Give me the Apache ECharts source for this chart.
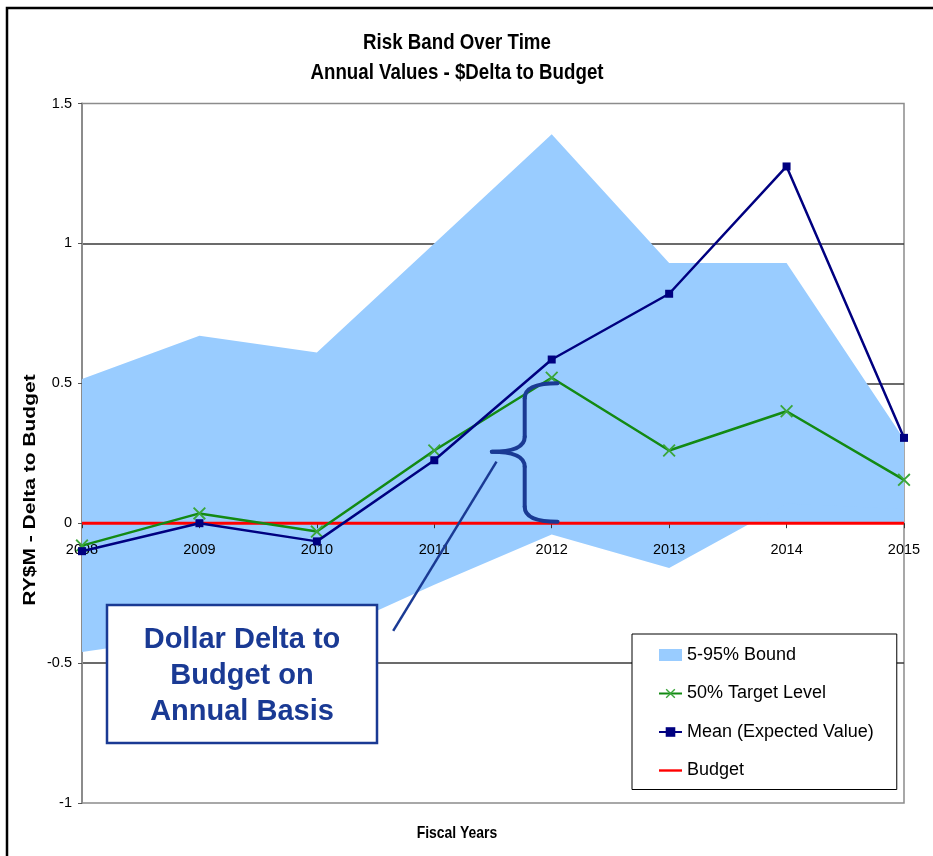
<!DOCTYPE html>
<html>
<head>
<meta charset="utf-8">
<title>Risk Band Over Time</title>
<script src="https://cdn.jsdelivr.net/npm/echarts@6/dist/echarts.min.js"></script>
<style>
  html, body { margin: 0; padding: 0; background: #ffffff; }
  #chart { width: 933px; height: 856px; }
</style>
</head>
<body>
<div id="chart"></div>
<script>
// Fiscal years on the category axis
const years = ['2008', '2009', '2010', '2011', '2012', '2013', '2014', '2015'];

// 5-95% risk band (upper and lower bounds), RY$M delta to budget
const bandUpper = [0.515, 0.67, 0.61, 1.0, 1.39, 0.93, 0.93, 0.30];
const bandLower = [-0.46, -0.40, -0.41, -0.22, -0.04, -0.16, 0.07, 0.05];

// 50% target level and mean (expected value)
const targetLevel = [-0.08, 0.035, -0.03, 0.26, 0.52, 0.26, 0.40, 0.155];
const meanValue = [-0.10, 0.0, -0.065, 0.225, 0.585, 0.82, 1.275, 0.305];

// Budget baseline
const budget = [0, 0, 0, 0, 0, 0, 0, 0];

// Value axis range
const yMin = -1;
const yMax = 1.5;
const yStep = 0.5;

const SANS = '"Liberation Sans", Arial, sans-serif';
const BAND_COLOR = '#99ccff';
const NOTE_COLOR = '#1a3a94';

// Plot area box
const GRID = { left: 82, top: 103.5, right: 29, bottom: 53 };
const CHART_H = 856;
const plotH = CHART_H - GRID.top - GRID.bottom;
// Category axis sits on the zero line of the value axis
const zeroOffset = -((0 - yMin) / (yMax - yMin)) * plotH;

// X-shaped marker for the target series
const crossSymbol = 'path://M0,1 L1,0 L5,4 L9,0 L10,1 L6,5 L10,9 L9,10 L5,6 L1,10 L0,9 L4,5 Z';
const lineIcon = 'path://M0,0 L24,0 L24,2.5 L0,2.5 Z';

const chart = echarts.init(document.getElementById('chart'), null, { renderer: 'canvas' });

const option = {
  animation: false,
  backgroundColor: '#ffffff',
  grid: {
    left: GRID.left,
    top: GRID.top,
    right: GRID.right,
    bottom: GRID.bottom,
    show: true,
    borderColor: '#8c8c8c',
    borderWidth: 1.5,
    backgroundColor: 'transparent'
  },
  legend: {
    orient: 'vertical',
    left: 632,
    top: 634,
    itemWidth: 23,
    itemHeight: 12,
    itemGap: 16.5,
    padding: [10, 23, 8, 26],
    backgroundColor: '#ffffff',
    borderColor: '#000000',
    borderWidth: 1,
    textStyle: { fontFamily: SANS, fontSize: 18, color: '#000000', lineHeight: 22 },
    data: [
      { name: '5-95% Bound', icon: 'rect', itemStyle: { color: BAND_COLOR } },
      { name: '50% Target Level' },
      { name: 'Mean (Expected Value)' },
      { name: 'Budget', icon: lineIcon, itemStyle: { color: '#ff0000' } }
    ]
  },
  xAxis: {
    type: 'category',
    data: years,
    boundaryGap: false,
    position: 'bottom',
    offset: zeroOffset,
    z: 2,
    axisLine: { show: true, onZero: false, lineStyle: { color: '#000000', opacity: 0 } },
    axisTick: { show: true, length: 5, alignWithLabel: true, lineStyle: { color: '#333333', width: 1 } },
    axisLabel: { fontFamily: SANS, fontSize: 14.5, color: '#000000', margin: 19, interval: 0 },
    splitLine: { show: false }
  },
  yAxis: {
    type: 'value',
    min: yMin,
    max: yMax,
    interval: yStep,
    axisLine: { show: true, lineStyle: { color: '#8c8c8c', width: 2 } },
    axisTick: { show: true, length: 4, lineStyle: { color: '#555555' } },
    axisLabel: { fontFamily: SANS, fontSize: 14.5, color: '#000000', margin: 10 },
    splitLine: {
      show: true,
      showMinLine: false,
      showMaxLine: false,
      lineStyle: { color: '#3a3a3a', width: 1.5 }
    }
  },
  series: [
    {
      name: '5-95% Bound',
      type: 'line',
      data: bandUpper,
      symbol: 'none',
      color: BAND_COLOR,
      lineStyle: { width: 0, color: BAND_COLOR },
      areaStyle: { color: BAND_COLOR, opacity: 1, origin: 'auto' },
      z: 1
    },
    {
      name: '5-95% Bound',
      type: 'line',
      data: bandLower,
      symbol: 'none',
      color: BAND_COLOR,
      lineStyle: { width: 0, color: BAND_COLOR },
      areaStyle: { color: BAND_COLOR, opacity: 1, origin: 'auto' },
      z: 1
    },
    {
      name: 'Budget',
      type: 'line',
      data: budget,
      symbol: 'none',
      color: '#ff0000',
      lineStyle: { width: 3, color: '#ff0000' },
      z: 3
    },
    {
      name: '50% Target Level',
      type: 'line',
      data: targetLevel,
      symbol: crossSymbol,
      symbolSize: 13,
      showSymbol: true,
      color: '#138a13',
      itemStyle: { color: '#3aa63a' },
      lineStyle: { width: 2.5, color: '#138a13' },
      z: 4
    },
    {
      name: 'Mean (Expected Value)',
      type: 'line',
      data: meanValue,
      symbol: 'rect',
      symbolSize: 8,
      showSymbol: true,
      color: '#000080',
      itemStyle: { color: '#000080' },
      lineStyle: { width: 2.5, color: '#000080' },
      z: 5
    }
  ]
};

chart.setOption(option);

// Pixel position for a fractional category position and a value on the y axis
function px(xPos, yValue) {
  const i = Math.min(Math.floor(xPos), years.length - 2);
  const f = xPos - i;
  const a = chart.convertToPixel({ gridIndex: 0 }, [i, yValue]);
  const b = chart.convertToPixel({ gridIndex: 0 }, [i + 1, yValue]);
  return [a[0] + f * (b[0] - a[0]), a[1]];
}

// Annotation: brace spanning the 2012 spread between budget and target, a pointer line
// and the explanatory note box.
const bTop = px(4.05, 0.5);
const bBot = px(4.05, 0.005);
const bTip = px(3.49, 0.255);
const xMid = px(3.77, 0)[0];
const r = 15;
const braceStyle = { fill: 'none', stroke: NOTE_COLOR, lineWidth: 4, lineCap: 'round' };

function curve(x1, y1, cx, cy, x2, y2) {
  return {
    type: 'bezierCurve', silent: true, z: 100,
    shape: { x1: x1, y1: y1, cpx1: cx, cpy1: cy, x2: x2, y2: y2 },
    style: braceStyle
  };
}
function segment(x1, y1, x2, y2, style) {
  return {
    type: 'line', silent: true, z: 100,
    shape: { x1: x1, y1: y1, x2: x2, y2: y2 },
    style: style
  };
}

const braceParts = [
  curve(bTop[0], bTop[1], xMid, bTop[1], xMid, bTop[1] + r),
  segment(xMid, bTop[1] + r, xMid, bTip[1] - r, braceStyle),
  curve(xMid, bTip[1] - r, xMid, bTip[1], bTip[0], bTip[1]),
  curve(bTip[0], bTip[1], xMid, bTip[1], xMid, bTip[1] + r),
  segment(xMid, bTip[1] + r, xMid, bBot[1] - r, braceStyle),
  curve(xMid, bBot[1] - r, xMid, bBot[1], bBot[0], bBot[1])
];

const pStart = px(3.53, 0.22);
const pEnd = px(2.65, -0.385);

function label(text, x, y, size, family, scaleX, extra) {
  return Object.assign({
    type: 'text', silent: true, x: x, y: y, z: 100, scaleX: scaleX,
    style: {
      text: text, fill: '#000000', fontFamily: family, fontSize: size,
      fontWeight: 'bold', align: 'center', verticalAlign: 'middle'
    }
  }, extra || {});
}

chart.setOption({
  graphic: [
    {
      type: 'rect',
      silent: true,
      z: 100,
      shape: { x: 7, y: 8, width: 1000, height: 1000 },
      style: { fill: 'none', stroke: '#000000', lineWidth: 2.5 }
    },
    label('Risk Band Over Time', 457, 43, 22, SANS, 0.85),
    label('Annual Values - $Delta to Budget', 457, 73, 22, SANS, 0.85),
    label('Fiscal Years', 457, 833, 17, SANS, 0.82),
    {
      type: 'text',
      silent: true,
      x: 30,
      y: 490,
      rotation: Math.PI / 2,
      scaleY: 0.8,
      z: 100,
      style: {
        text: 'RY$M - Delta to Budget',
        fill: '#000000',
        fontFamily: SANS,
        fontSize: 21,
        fontWeight: 'bold',
        align: 'center',
        verticalAlign: 'middle'
      }
    }
  ].concat(braceParts).concat([
    segment(pStart[0], pStart[1], pEnd[0], pEnd[1], { stroke: NOTE_COLOR, lineWidth: 2.5 }),
    {
      type: 'rect',
      silent: true,
      z: 100,
      shape: { x: 107, y: 605, width: 270, height: 138 },
      style: { fill: '#ffffff', stroke: NOTE_COLOR, lineWidth: 2.5 }
    },
    {
      type: 'text',
      silent: true,
      x: 242,
      y: 676,
      z: 101,
      style: {
        text: 'Dollar Delta to\nBudget on\nAnnual Basis',
        fill: NOTE_COLOR,
        fontFamily: SANS,
        fontSize: 29,
        fontWeight: 'bold',
        lineHeight: 36,
        align: 'center',
        verticalAlign: 'middle'
      }
    }
  ])
});
</script>
</body>
</html>
